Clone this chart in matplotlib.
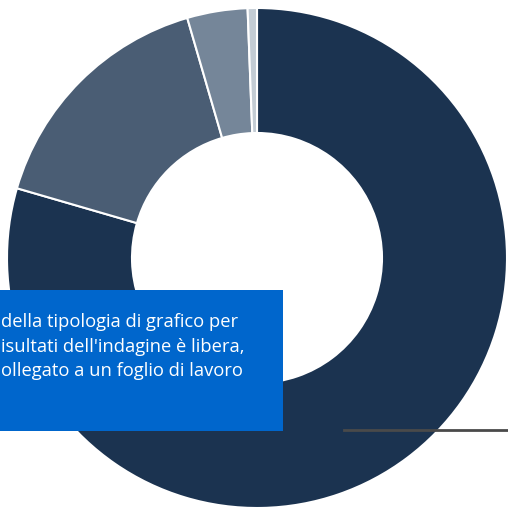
import matplotlib
matplotlib.use('Agg')
import matplotlib.pyplot as plt
from matplotlib.patches import Rectangle

# quote del grafico ad anello (in senso orario dalle ore 12)
categorie = ['A', 'B', 'C', 'D']
valori = [79.5, 16.0, 3.9, 0.6]
colori = ['#1b3350', '#4a5d74', '#758699', '#c3ccd4']

righe_testo = [
    "della tipologia di grafico per",
    "isultati dell'indagine è libera,",
    "ollegato a un foglio di lavoro",
]

W = H = 508
fig = plt.figure(figsize=(W / 100, H / 100), dpi=100)
ax = fig.add_axes([0, 0, 1, 1])
ax.set_xlim(0, W)
ax.set_ylim(0, H)
ax.set_aspect('equal')
ax.set_axis_off()

ax.pie(valori, colors=colori, startangle=90, counterclock=False,
       center=(257, H - 258), radius=250,
       wedgeprops=dict(width=125, edgecolor='white', linewidth=1.5))
ax.set_xlim(0, W)
ax.set_ylim(0, H)

# linea di richiamo in basso a destra
ax.plot([344, W], [H - 430, H - 430], color='#4a4a4a', linewidth=2.0, zorder=3)

# riquadro blu con testo
ax.add_patch(Rectangle((0, H - 431), 283, 141, facecolor='#0066cc',
                       edgecolor='none', zorder=4))
for i, riga in enumerate(righe_testo):
    ax.text(1, H - 322 - i * 24.5, riga, color='white', fontsize=13.2,
            family=['Open Sans', 'DejaVu Sans'], va='center', ha='left',
            zorder=5)

fig.savefig('out.png', dpi=100)
